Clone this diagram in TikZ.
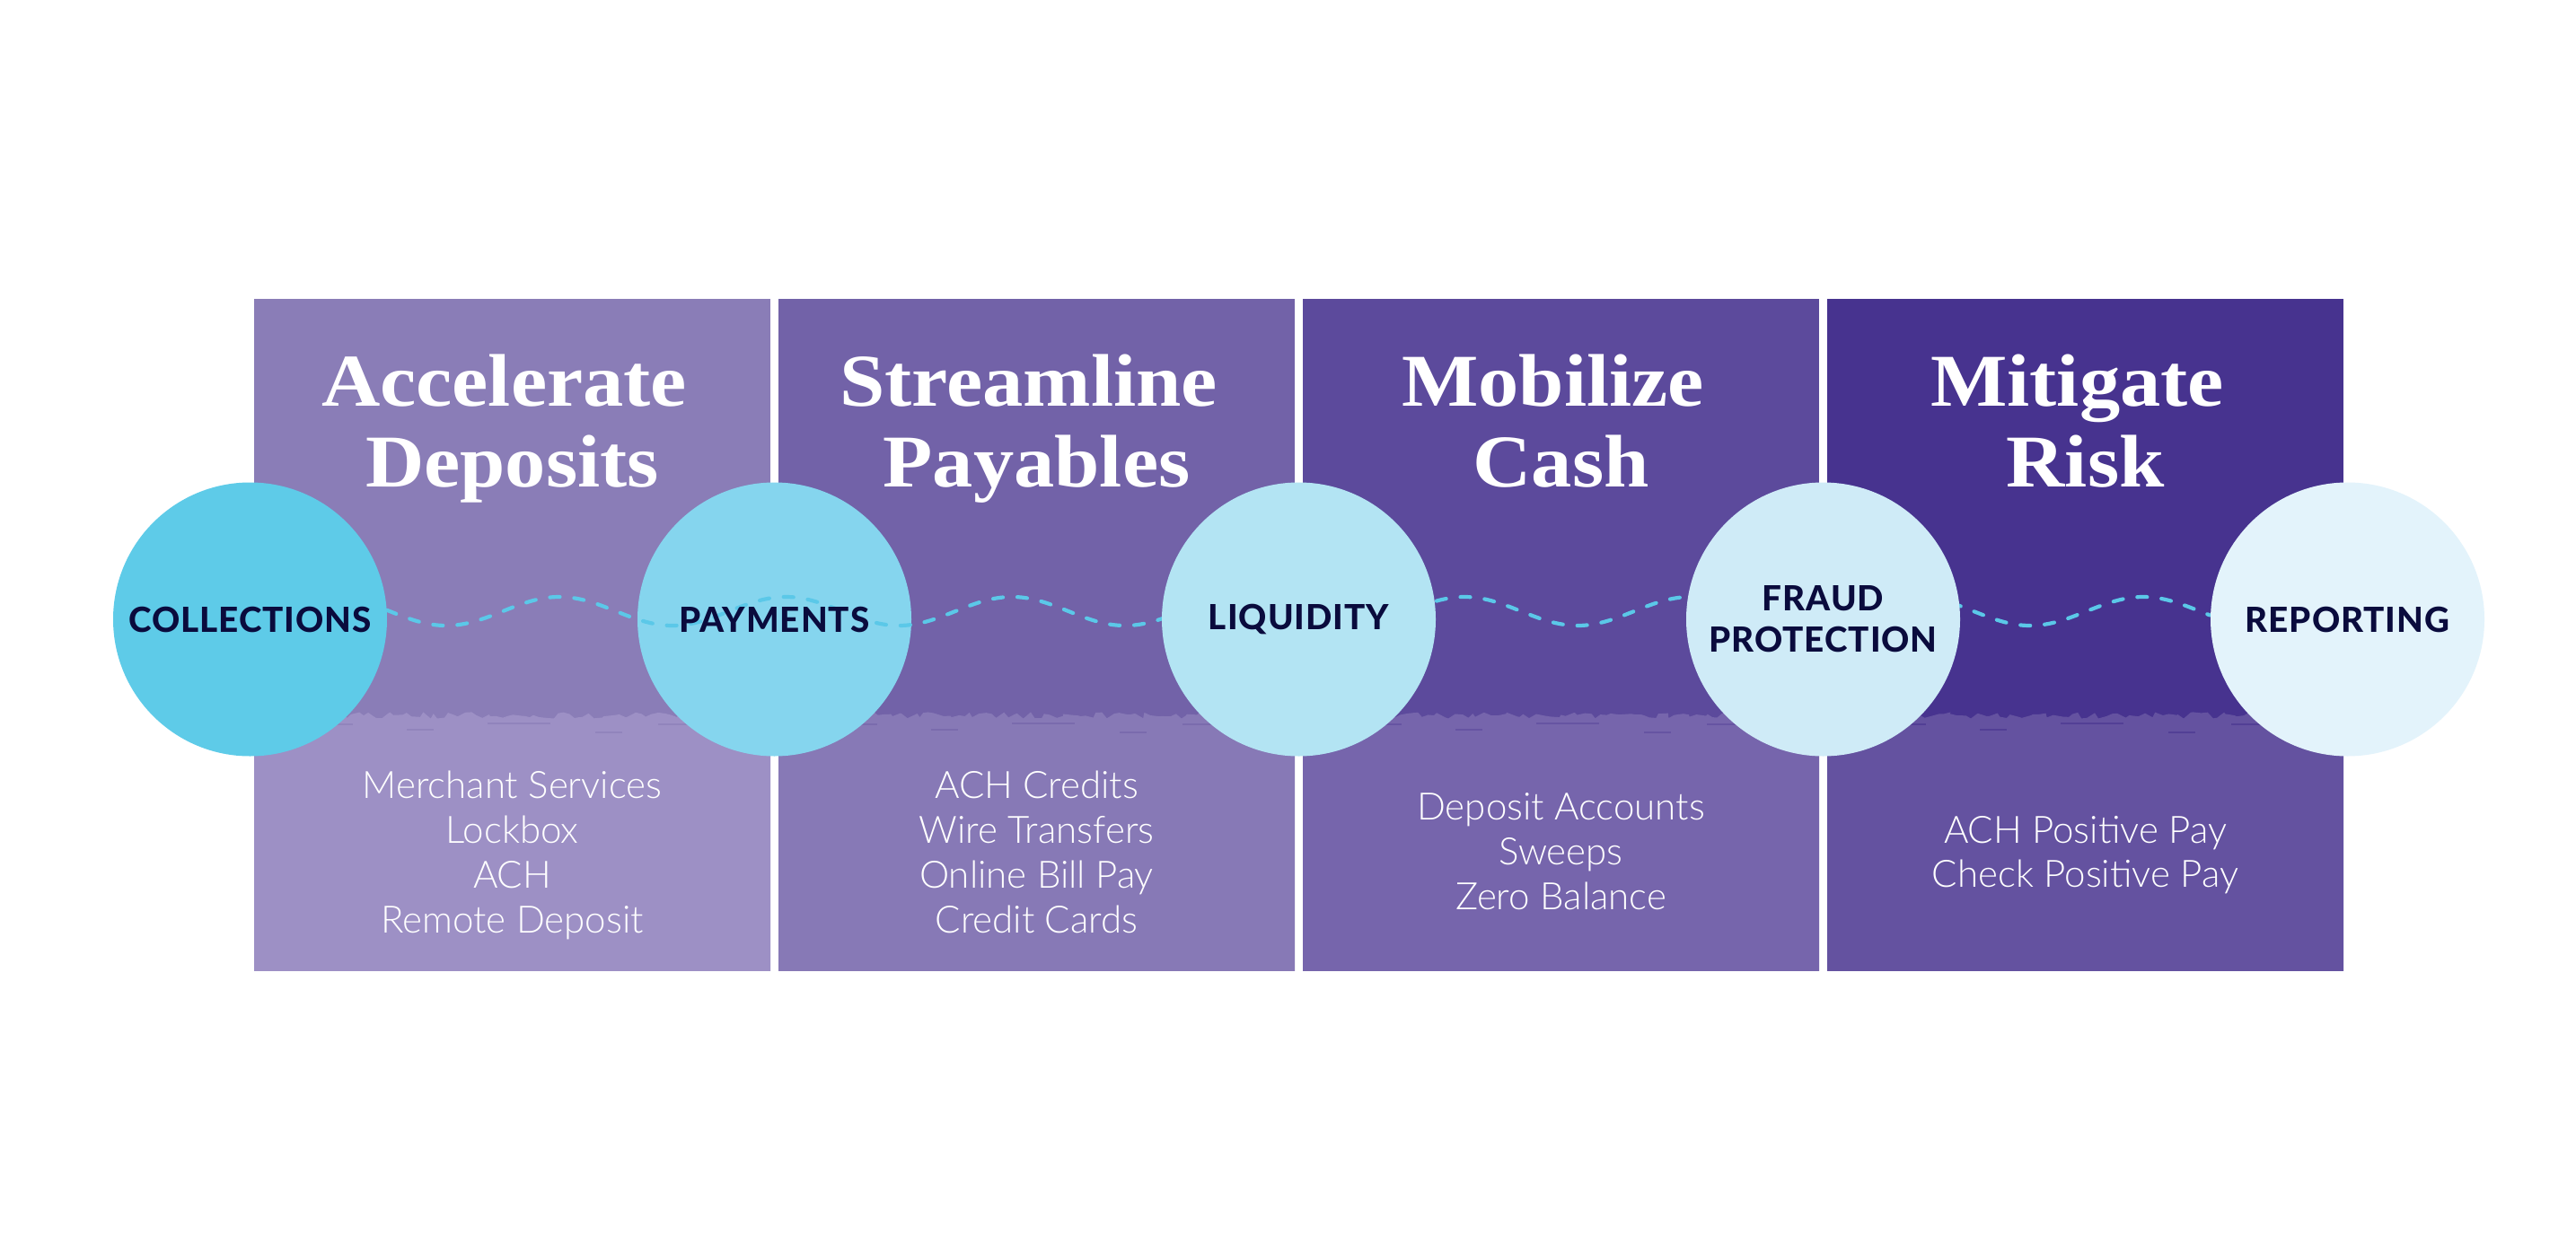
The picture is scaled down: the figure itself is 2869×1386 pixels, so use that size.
\documentclass[tikz,border=0pt]{standalone}
\usepackage{fontspec}
\usetikzlibrary{decorations.pathmorphing}
\newfontfamily\titlefont{Liberation Serif}[FakeStretch=1.09]
\newfontfamily\labelfont{Lato Heavy}[LetterSpace=2.5]
\newfontfamily\listfont{Lato Light}
\definecolor{ptopA}{HTML}{8A7DB7}
\definecolor{pbotA}{HTML}{9D90C5}
\definecolor{ptopB}{HTML}{7262A8}
\definecolor{pbotB}{HTML}{8779B6}
\definecolor{ptopC}{HTML}{5C4A9C}
\definecolor{pbotC}{HTML}{7665AC}
\definecolor{ptopD}{HTML}{47338F}
\definecolor{pbotD}{HTML}{6452A0}
\definecolor{circA}{HTML}{5ECBE8}
\definecolor{circB}{HTML}{85D5EE}
\definecolor{circC}{HTML}{B3E4F3}
\definecolor{circD}{HTML}{CFEBF7}
\definecolor{circE}{HTML}{E3F3FB}
\definecolor{navy}{HTML}{0A0B3D}
\definecolor{wavec}{HTML}{5BC8E8}
\tikzset{
  titletext/.style={text=white, inner sep=0pt, font=\titlefont\bfseries\fontsize{41.5}{45}\selectfont},
  listtext/.style={text=white, inner sep=0pt, font=\listfont\fontsize{21}{25}\selectfont},
  circ/.style={circle, draw=none, minimum size=152.5pt, inner sep=0pt},
  lab/.style={text=navy, inner sep=0pt, align=center, font=\labelfont\fontsize{19.3}{23}\selectfont},
  wavestyle/.style={draw=wavec, line width=2.1pt, line cap=round, dash pattern=on 5.5pt off 8pt},
}
\begin{document}
\begin{tikzpicture}[x=0.5pt,y=-0.5pt]
\fill[white] (0,0) rectangle (2869,1386);
\useasboundingbox (0,0) rectangle (2869,1386);
% panels
\pgfmathsetseed{7}
\foreach \L/\ct/\cb in {283/ptopA/pbotA, 867/ptopB/pbotB, 1451/ptopC/pbotC, 2035/ptopD/pbotD}{
  \fill[fill=\ct] (\L,333) rectangle ({\L+575},1081);
  \begin{scope}
    \clip (\L,333) rectangle ({\L+575},1081);
    \fill[fill=\cb] decorate[decoration={random steps,segment length=3pt,amplitude=1.8pt}]{({\L-10},797) -- ({\L+585},797)} -- ({\L+585},1090) -- ({\L-10},1090) -- cycle;
    \fill[fill=\ct, opacity=0.6] ({\L+60},806) rectangle ({\L+110},808);
    \fill[fill=\ct, opacity=0.6] ({\L+170},812) rectangle ({\L+200},814);
    \fill[fill=\ct, opacity=0.6] ({\L+260},805) rectangle ({\L+330},807);
    \fill[fill=\ct, opacity=0.6] ({\L+380},815) rectangle ({\L+410},817);
    \fill[fill=\ct, opacity=0.6] ({\L+450},806) rectangle ({\L+500},808);
  \end{scope}
}
% titles
\foreach \n/\cx/\a/\b in {1/570.5/Accelerate/Deposits, 2/1154.5/Streamline/Payables, 3/1738.5/Mobilize/Cash, 4/2322.5/Mitigate/Risk}{
  \node[titletext, anchor=base] (ta\n) at ({\cx-9},452) {\a};
  \node[titletext, anchor=base] (tb\n) at (\cx,542) {\b};
}
% lists
\foreach \t [count=\i] in {Merchant Services, Lockbox, ACH, Remote Deposit}{
  \node[listtext, anchor=base] (la\i) at (570.5,{839+50*\i}) {\t};
}
\foreach \t [count=\i] in {ACH Credits, Wire Transfers, Online Bill Pay, Credit Cards}{
  \node[listtext, anchor=base] (lb\i) at (1154.5,{839+50*\i}) {\t};
}
\foreach \t [count=\i] in {Deposit Accounts, Sweeps, Zero Balance}{
  \node[listtext, anchor=base] (lc\i) at (1738.5,{863+50*\i}) {\t};
}
\foreach \t [count=\i] in {ACH Positive Pay, Check Positive Pay}{
  \node[listtext, anchor=base] (ld\i) at (2322.5,{890+49*\i}) {\t};
}
% circles
\node[circ, fill=circB] (c2) at (862.5,690) {};
\draw[wavestyle] plot[domain=431:2461, samples=400, smooth] (\x,{681+16*cos(((\x-497)/252)*360)});
\node[circ, fill=circA] (c1) at (278.5,690) {};
\node[circ, fill=circC] (c3) at (1446.5,690) {};
\node[circ, fill=circD] (c4) at (2030.5,690) {};
\node[circ, fill=circE] (c5) at (2614.5,690) {};
% labels
\node[lab] (l1) at (c1) {COLLECTIONS};
\node[lab] (l2) at (c2) {PAYMENTS};
\node[lab] (l3) at (c3) {LIQUIDITY};
\node[lab] (l4) at (c4) {FRAUD\\PROTECTION};
\node[lab] (l5) at (c5) {REPORTING};
\end{tikzpicture}
\end{document}
